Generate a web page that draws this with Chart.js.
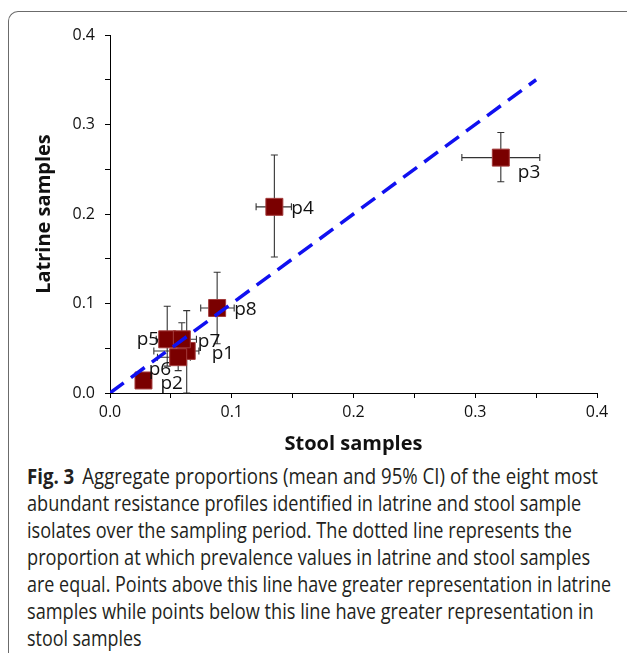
<!DOCTYPE html>
<html>
<head>
<meta charset="utf-8">
<script src="https://cdn.jsdelivr.net/npm/chart.js@4.4.1/dist/chart.umd.min.js"></script>
<style>
  html, body { margin: 0; padding: 0; background: #fff; overflow: hidden; }
  body { width: 627px; height: 653px; position: relative; }
  #frame {
    position: absolute; left: 8px; top: 11px; width: 660px; height: 700px;
    border-left: 1.5px solid #6b6b6b; border-top: 1.5px solid #6b6b6b;
    border-top-left-radius: 10px;
  }
  #wrap { position: absolute; left: 0; top: 0; width: 627px; height: 460px; }
  #caption {
    position: absolute; left: 27px; top: 463px;
    font-family: "Open Sans", sans-serif;
    font-size: 21px; line-height: 27px; color: #231f20; white-space: nowrap;
  }
  #caption span { display: block; width: max-content; transform-origin: 0 0; transform: scaleX(0.78); }
  #caption b { font-weight: bold; margin-right: 9px; }
</style>
</head>
<body>
<div id="frame"></div>
<div id="wrap"><canvas id="chart"></canvas></div>
<div id="caption"><span data-w="571"><b>Fig. 3</b>Aggregate proportions (mean and 95% CI) of the eight most</span><span data-w="554">abundant resistance profiles identified in latrine and stool sample</span><span data-w="545">isolates over the sampling period. The dotted line represents the</span><span data-w="563">proportion at which prevalence values in latrine and stool samples</span><span data-w="584">are equal. Points above this line have greater representation in latrine</span><span data-w="567">samples while points below this line have greater representation in</span><span data-w="115">stool samples</span></div>
<script>
// profile names and aggregate proportions (mean + 95% CI)
const profiles = ['p1', 'p2', 'p3', 'p4', 'p5', 'p6', 'p7', 'p8'];
const stoolMean = [0.063, 0.0275, 0.321, 0.135, 0.047, 0.056, 0.059, 0.088];
const latrineMean = [0.047, 0.014, 0.263, 0.208, 0.060, 0.040, 0.060, 0.095];
const stoolLow = [0.036, 0.021, 0.289, 0.120, 0.038, 0.039, 0.051, 0.0745];
const stoolHigh = [0.073, 0.034, 0.353, 0.149, 0.057, 0.066, 0.071, 0.102];
const latrineLow = [0.000, 0.006, 0.236, 0.152, 0.030, 0.025, 0.043, 0.055];
const latrineHigh = [0.092, 0.022, 0.291, 0.266, 0.097, 0.056, 0.0785, 0.135];

// equality line (stool == latrine)
const lineX = [0, 0.35];

// axis ticks
const tickValues = [0, 0.1, 0.2, 0.3, 0.4];
const minorTicks = [0, 0.05, 0.1, 0.15, 0.2, 0.25, 0.3, 0.35, 0.4];

// label placement relative to marker (px)
const labelStyle = {
    p1: { dx: 25, dy: 3, align: 'left' },
    p2: { dx: 17, dy: 3, align: 'left' },
    p3: { dx: 17, dy: 15, align: 'left' },
    p4: { dx: 17, dy: 2, align: 'left' },
    p5: { dx: -8, dy: 0, align: 'right' },
    p6: { dx: -7, dy: 12, align: 'right' },
    p7: { dx: 16, dy: 2, align: 'left' },
    p8: { dx: 17, dy: 2, align: 'left' }
};

// squeeze each caption line to the narrow face used in the figure
function fitCaption() {
    document.querySelectorAll('#caption span').forEach(el => {
        const w = el.scrollWidth;
        if (w > 0) el.style.transform = 'scaleX(' + (+el.dataset.w / w) + ')';
    });
}
fitCaption();
window.addEventListener('load', fitCaption);

const errorBars = {
    id: 'errorBars',
    beforeDatasetsDraw(chart) {
        const ctx = chart.ctx;
        const xs = chart.scales.x, ys = chart.scales.y;
        ctx.save();
        ctx.strokeStyle = '#333';
        ctx.lineWidth = 1.1;
        const c = 3.5;
        profiles.forEach((p, i) => {
            const cx = xs.getPixelForValue(stoolMean[i]);
            const cy = ys.getPixelForValue(latrineMean[i]);
            const x0 = xs.getPixelForValue(stoolLow[i]);
            const x1 = xs.getPixelForValue(stoolHigh[i]);
            const y0 = ys.getPixelForValue(latrineLow[i]);
            const y1 = ys.getPixelForValue(latrineHigh[i]);
            ctx.beginPath();
            ctx.moveTo(x0, cy); ctx.lineTo(x1, cy);
            ctx.moveTo(x0, cy - c); ctx.lineTo(x0, cy + c);
            ctx.moveTo(x1, cy - c); ctx.lineTo(x1, cy + c);
            ctx.moveTo(cx, y0); ctx.lineTo(cx, y1);
            ctx.moveTo(cx - c, y0); ctx.lineTo(cx + c, y0);
            ctx.moveTo(cx - c, y1); ctx.lineTo(cx + c, y1);
            ctx.stroke();
        });
        ctx.restore();
    },
    afterDatasetsDraw(chart) {
        const ctx = chart.ctx;
        const meta = chart.getDatasetMeta(1);
        ctx.save();
        ctx.font = '19px "Open Sans"';
        ctx.fillStyle = '#111';
        ctx.textBaseline = 'middle';
        meta.data.forEach((pt, i) => {
            const s = labelStyle[profiles[i]];
            ctx.textAlign = s.align;
            ctx.fillText(profiles[i], pt.x + s.dx, pt.y + s.dy);
        });
        ctx.restore();
    }
};

const axisFont = { family: 'Open Sans', size: 16 };
const tickLabel = v => tickValues.some(t => Math.abs(t - v) < 1e-9) ? v.toFixed(1) : '';

new Chart(document.getElementById('chart').getContext('2d'), {
    data: {
        datasets: [{
            type: 'line',
            label: 'equal',
            data: lineX.map(v => ({ x: v, y: v })),
            borderColor: '#1010f0',
            borderWidth: 3.5,
            borderDash: [17, 9],
            pointRadius: 0,
            order: 0
        }, {
            type: 'scatter',
            label: 'profiles',
            data: profiles.map((p, i) => ({ x: stoolMean[i], y: latrineMean[i] })),
            pointStyle: 'rect',
            pointRadius: 12,
            backgroundColor: '#7a0000',
            borderColor: '#a33a3a',
            borderWidth: 1,
            order: 1
        }]
    },
    options: {
        responsive: true,
        maintainAspectRatio: false,
        animation: false,
        events: [],
        layout: { padding: { top: 35, right: 30, left: 30, bottom: 0 } },
        plugins: { legend: { display: false }, tooltip: { enabled: false } },
        scales: {
            x: {
                type: 'linear',
                min: 0, max: 0.4,
                afterFit: s => { s.height = 67; },
                afterBuildTicks: s => { s.ticks = minorTicks.map(v => ({ value: v })); },
                ticks: { color: '#111', font: axisFont, padding: 5, maxRotation: 0, callback: tickLabel },
                grid: { drawOnChartArea: false, drawTicks: true, tickLength: 5, color: '#000' },
                border: { display: true, color: '#000', width: 1 },
                title: { display: true, text: 'Stool samples', color: '#111', font: { family: 'Open Sans', size: 20, weight: 'bold' }, padding: { top: 2 } }
            },
            y: {
                type: 'linear',
                min: 0, max: 0.4,
                afterFit: s => { s.width = 80; },
                afterBuildTicks: s => { s.ticks = minorTicks.map(v => ({ value: v })); },
                ticks: { color: '#111', font: axisFont, padding: 10, callback: tickLabel },
                grid: { drawOnChartArea: false, drawTicks: true, tickLength: 5, color: '#000' },
                border: { display: true, color: '#000', width: 1 },
                title: { display: true, text: 'Latrine samples', color: '#111', font: { family: 'Open Sans', size: 20, weight: 'bold' }, padding: { top: 2, bottom: 0 } }
            }
        }
    },
    plugins: [errorBars]
});
</script>
</body>
</html>
